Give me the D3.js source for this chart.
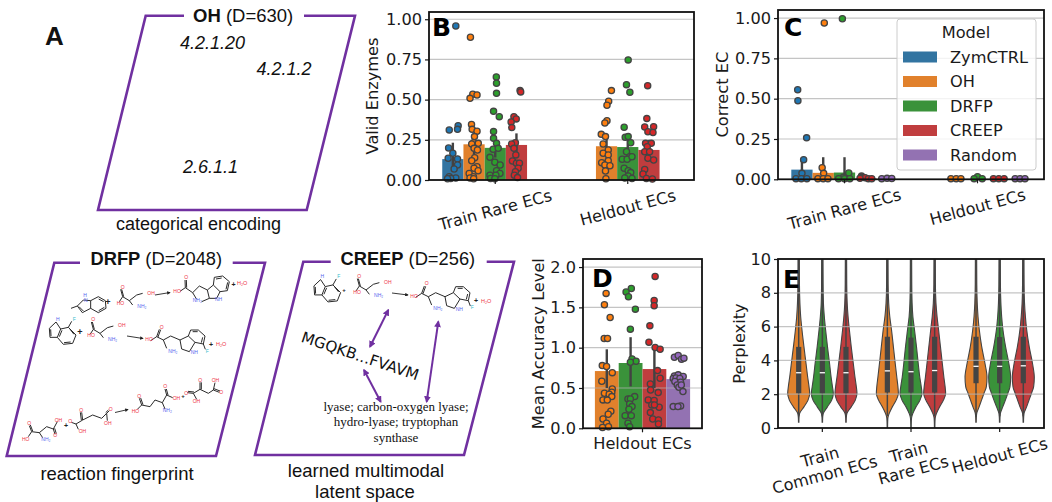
<!DOCTYPE html>
<html><head><meta charset="utf-8">
<script src="https://cdn.jsdelivr.net/npm/d3@7"></script>
<style>html,body{margin:0;padding:0;background:#fff}svg{display:block}</style>
</head><body><svg id="c" width="1052" height="502"></svg>
<script>
// ---------- data ----------
const modelNames = ["ZymCTRL","OH","DRFP","CREEP","Random"];
const barColors  = ["#3274a1","#e1812c","#3a923a","#c03d3e","#9372b2"];
const dotColors  = ["#1f77b4","#ff7f0e","#2ca02c","#d62728","#9467bd"];
const catsBC = ["Train Rare ECs","Heldout ECs"];
const catsD  = ["Heldout ECs"];
const catsE  = ["Train\nCommon ECs","Train\nRare ECs","Heldout ECs"];
const ticksBC = [0,0.25,0.5,0.75,1];
const ticksD  = [0,0.5,1,1.5,2];
const ticksE  = [0,2,4,6,8,10];

// bars: [category, model, mean, ciLow, ciHigh]
const validBars = [[0,0,.13,.06,.232],[0,1,.222,.15,.29],[0,2,.2,.14,.27],[0,3,.218,.15,.29],
                   [1,1,.21,.15,.28],[1,2,.205,.14,.27],[1,3,.187,.13,.25]];
const correctBars = [[0,0,.06,.01,.125],[0,1,.04,.0,.137],[0,2,.042,.0,.137],[0,3,.006,.002,.012],[0,4,.002,.0,.004],
                     [1,1,.001,.0,.002],[1,2,.002,.0,.005],[1,3,.001,.0,.002],[1,4,.001,.0,.002]];
const accuracyBars = [[0,1,.71,.5,.98],[0,2,.81,.52,1.13],[0,3,.735,.5,.97],[0,4,.61,.54,.7]];

// strip points: [value, spread in bar widths]
const validTrainZym = [[.958,.14],[.338,.25],[.311,-.17],[.315,.22],[.199,-.2],[.166,0],[.135,-.22],[.131,.22],[.093,.22],[.068,.06],[.02,-.17],[.012,.14],[.01,-.1],[.008,-.25]];
const validTrainOH = [[.888,-.17],[.533,-.06],[.529,.14],[.508,-.19],[.346,-.12],[.315,-.09],[.303,.14],[.27,.02],[.232,-.02],[.228,.2],[.224,-.11],[.197,0],[.187,.16],[.139,.03],[.12,-.11],[.083,.14],[.073,0],[.058,.19],[.041,-.23],[.02,-.03],[.012,-.19],[.008,-.02]];
const validTrainDRFP = [[.641,.05],[.602,.06],[.539,.06],[.427,-.08],[.394,.19],[.301,-.08],[.259,-.08],[.228,.06],[.191,-.1],[.197,.14],[.141,-.25],[.11,-.02],[.093,.23],[.058,.06],[.041,.22],[.03,-.25],[.03,.03],[.01,-.22],[.008,-.02]];
const validTrainCREEP = [[.556,.17],[.548,.2],[.394,-.12],[.38,-.01],[.361,-.25],[.326,-.22],[.232,-.05],[.224,-.23],[.197,-.12],[.156,-.03],[.118,-.19],[.104,0],[.104,.14],[.073,.08],[.052,-.05],[.03,-.1],[.015,.05]];
const validHeldOH = [[.556,.23],[.49,.1],[.465,.02],[.369,.02],[.355,-.08],[.284,-.25],[.27,-.05],[.224,-.16],[.187,.08],[.166,-.16],[.156,.08],[.108,-.23],[.12,.08],[.093,-.08],[.089,.16],[.056,-.05],[.008,-.03]];
const validHeldDRFP = [[.747,.02],[.593,-.06],[.546,.1],[.328,-.17],[.266,-.12],[.27,.02],[.232,.14],[.176,-.06],[.145,.1],[.129,-.26],[.129,-.03],[.145,.2],[.073,-.17],[.058,.02],[.046,.14],[.025,.02],[.012,-.14],[.01,.2]];
const validHeldCREEP = [[.587,-.06],[.382,-.1],[.33,-.2],[.332,.22],[.3,-.05],[.295,.19],[.228,-.16],[.228,.11],[.207,-.08],[.176,-.2],[.176,.03],[.135,-.05],[.124,.22],[.066,-.2],[.037,-.28],[.01,-.12],[.006,.16]];

const correctTrainZym = [[.555,-.2],[.487,-.19],[.257,.22],[.122,.08],[.037,0],[.004,-.28],[.004,-.03],[.004,.23]];
const correctTrainOH = [[.969,.05],[.072,-.05],[.037,.02],[.004,-.25],[.004,0],[.004,.22]];
const correctTrainDRFP = [[.996,-.1],[.039,.2],[.012,-.05],[.004,-.28],[.004,0],[.004,.25]];
const correctTrainCREEP = [[.02,-.2],[.012,-.2],[.01,-.03],[.004,.12],[.004,.28],[.006,-.27]];
const correctTrainRandom = [[.004,-.25],[.006,0],[.005,.22]];
const correctHeldOH = [[.004,-.25],[.004,0],[.004,.22]];
const correctHeldDRFP = [[.016,0],[.004,-.16],[.004,.22]];
const correctHeldCREEP = [[.004,-.25],[.004,0],[.004,.25]];
const correctHeldRandom = [[.004,-.23],[.004,0],[.004,.23]];

const accuracyOH = [[1.673,-.03],[1.532,-.1],[1.375,.14],[1.114,-.11],[1.114,.03],[.778,-.19],[.766,-.01],[.69,.23],[.584,-.21],[.489,.23],[.447,.21],[.435,-.1],[.422,.1],[.393,.21],[.352,-.16],[.35,.02],[.211,.17],[.174,.06],[.116,-.16],[.062,-.01],[.02,.07],[.01,-.18]];
const accuracyDRFP = [[1.735,.03],[1.69,-.19],[1.631,-.09],[1.478,.2],[1.23,-.01],[.861,.06],[.832,.23],[.82,-.01],[.393,.17],[.364,-.11],[.364,-.01],[.302,-.04],[.269,.06],[.236,-.07],[.157,-.23],[.157,.03],[.062,-.11],[.02,-.04]];
const accuracyCREEP = [[1.884,.03],[1.586,-.01],[1.52,-.01],[1.271,-.19],[1.068,-.23],[1.002,.03],[.981,.24],[.716,.13],[.621,.24],[.551,-.17],[.476,-.16],[.443,.16],[.352,-.26],[.344,-.01],[.29,-.11],[.261,.2],[.29,0],[.195,-.17],[.116,-.07],[.104,.17],[.054,.17]];
const accuracyRandom = [[.882,-.16],[.903,0],[.857,.14],[.87,.24],[.65,-.16],[.663,0],[.642,.21],[.617,-.21],[.625,-.09],[.617,.07],[.58,-.14],[.571,.1],[.538,-.04],[.509,.03],[.538,.13],[.455,.2],[.269,-.21],[.277,.1],[.269,-.01]];

// violins: perplexity levels and relative density at each level (null = no density there)
const perplexityLevels = [0,.35,.6,.85,1.25,1.65,2.05,2.45,3,3.8,4.8,5.8,6.6,7.4,8.5,10];
const densCommonOH    = [null,.02,.03,.08,.48,.85,1,.94,.82,.67,.48,.30,.18,.11,.07,.06];
const densCommonDRFP  = [null,.02,.03,.08,.46,.85,1,.92,.80,.66,.47,.30,.18,.10,.07,.06];
const densCommonCREEP = [null,.02,.03,.08,.48,.85,1,.94,.82,.67,.48,.31,.19,.11,.07,.06];
const densRareOH      = [.02,.03,.05,.16,.45,.8,1,.96,.86,.72,.55,.38,.22,.12,.07,.06];
const densRareDRFP    = [.02,.03,.05,.16,.45,.82,1,.93,.80,.66,.50,.32,.17,.10,.07,.06];
const densRareCREEP   = [.02,.03,.05,.16,.45,.8,1,.95,.84,.70,.53,.36,.22,.12,.07,.06];
const densHeldOH      = [null,.02,.03,.06,.28,.5,.72,.94,1,.82,.52,.30,.18,.11,.07,.06];
const densHeldDRFP    = [null,.02,.03,.06,.28,.52,.74,.94,1,.84,.54,.30,.18,.11,.07,.06];
const densHeldCREEP   = [null,.02,.03,.06,.30,.52,.74,.94,1,.84,.54,.31,.19,.11,.07,.06];
// [category, model, density, q1, median, q3]
const violinSet = [
 [0,1,densCommonOH,2.05,3.27,4.8],[0,2,densCommonDRFP,2.05,3.27,4.8],[0,3,densCommonCREEP,2.05,3.27,4.8],
 [1,1,densRareOH,2.1,3.38,5.4],[1,2,densRareDRFP,2.1,3.33,5.35],[1,3,densRareCREEP,2.1,3.4,5.4],
 [2,1,densHeldOH,2.65,3.65,5.4],[2,2,densHeldDRFP,2.65,3.65,5.38],[2,3,densHeldCREEP,2.65,3.68,5.4]];

// ---------- helpers ----------
const svg = d3.select("#c");
const SANS = "'DejaVu Sans'", ARIAL = "'Liberation Sans'", SERIF = "'Liberation Serif'";
const PURPLE = "#7030a0", INK = "#1a1a1a", AXFS = 16.2;

function panel(o){
  const g = svg.append("g");
  const x = d3.scaleBand().domain(o.cats).range([o.l,o.r]);
  const sub = d3.scaleBand().domain(o.models).range([.1*x.bandwidth(),.9*x.bandwidth()]);
  const y = d3.scaleLinear().domain([0,o.ymax]).range([o.b,o.t]);
  const cx = (c,m)=>x(o.cats[c])+sub(modelNames[m])+sub.bandwidth()/2;
  return {g,x,sub,y,cx,o};
}
function grid(p){
  p.g.append("g").selectAll("line").data(p.o.ticks.filter(t=>t>0)).join("line")
    .attr("x1",p.o.l).attr("x2",p.o.r).attr("y1",d=>p.y(d)).attr("y2",d=>p.y(d))
    .attr("stroke","#b0b0b0").attr("stroke-opacity",.75).attr("stroke-width",1.2);
}
function frame(p){
  const o=p.o;
  const ax=p.g.append("g").attr("transform",`translate(${o.l},0)`)
    .call(d3.axisLeft(p.y).tickValues(o.ticks).tickFormat(d3.format(o.fmt)).tickSize(4).tickPadding(3));
  ax.select(".domain").remove();
  ax.selectAll("text").attr("font-family",SANS).attr("font-size",AXFS).attr("fill",INK);
  ax.selectAll("line").attr("stroke",INK).attr("stroke-width",1.2);
  p.g.selectAll(".xt").data(o.cats).join("line").attr("class","xt")
    .attr("x1",d=>p.x(d)+p.x.bandwidth()/2).attr("x2",d=>p.x(d)+p.x.bandwidth()/2)
    .attr("y1",o.b).attr("y2",o.b+4).attr("stroke",INK).attr("stroke-width",1.2);
  p.g.append("rect").attr("x",o.l).attr("y",o.t).attr("width",o.r-o.l).attr("height",o.b-o.t)
    .attr("fill","none").attr("stroke","#111").attr("stroke-width",1.8);
  o.cats.forEach(c=>xLabel(p,c,o.rot));
  p.g.append("text").attr("transform",`translate(${o.ylx},${(o.t+o.b)/2}) rotate(-90)`)
    .attr("text-anchor","middle").attr("font-family",SANS).attr("font-size",AXFS).attr("fill",INK).text(o.ylabel);
  p.g.append("text").attr("x",o.letter[1]).attr("y",o.letter[2]).attr("font-family",SANS)
    .attr("font-weight","bold").attr("font-size",25).attr("fill","#000").text(o.letter[0]);
}
function xLabel(p,c,rot){
  const lines=c.split("\n"), lh=18.4, xc=p.x(c)+p.x.bandwidth()/2;
  const t=p.g.append("text").attr("text-anchor","middle").attr("font-family",SANS).attr("font-size",AXFS).attr("fill",INK);
  const spans=lines.map((s,i)=>t.append("tspan").attr("x",0).attr("y",(i-(lines.length-1)/2)*lh).attr("dy",".35em").text(s));
  const w=d3.max(spans,s=>s.node().getComputedTextLength());
  const a=rot*Math.PI/180, H=w*Math.sin(a)+lines.length*lh*Math.cos(a);
  const yc=p.o.b+6+H/2;
  t.attr("transform",`translate(${xc},${yc}) rotate(${-rot})`);
}
function bars(p,rows){
  p.g.append("g").selectAll("rect").data(rows).join("rect")
    .attr("x",d=>p.cx(d[0],d[1])-p.sub.bandwidth()/2).attr("width",p.sub.bandwidth())
    .attr("y",d=>p.y(d[2])).attr("height",d=>p.o.b-p.y(d[2])).attr("fill",d=>barColors[d[1]]);
}
function errs(p,rows){
  p.g.append("g").selectAll("line").data(rows).join("line")
    .attr("x1",d=>p.cx(d[0],d[1])).attr("x2",d=>p.cx(d[0],d[1]))
    .attr("y1",d=>p.y(d[3])).attr("y2",d=>p.y(d[4])).attr("stroke","#424242").attr("stroke-width",2.4);
}
function dots(p,c,m,pts){
  p.g.append("g").selectAll("circle").data(pts).join("circle")
    .attr("cx",d=>p.cx(c,m)+d[1]*p.sub.bandwidth()).attr("cy",d=>p.y(d[0])).attr("r",3.1)
    .attr("fill",dotColors[m]).attr("stroke","#444").attr("stroke-width",1.3);
}

// ---------- panel B ----------
const pB = panel({cats:catsBC,models:modelNames,l:429,r:694,t:12,b:180,ymax:1.045,ticks:ticksBC,fmt:".2f",rot:15,ylx:378,ylabel:"Valid Enzymes",letter:["B",432,36]});
bars(pB,validBars); grid(pB); errs(pB,validBars);
[[0,0,validTrainZym],[0,1,validTrainOH],[0,2,validTrainDRFP],[0,3,validTrainCREEP],[1,1,validHeldOH],[1,2,validHeldDRFP],[1,3,validHeldCREEP]].forEach(a=>dots(pB,...a));
frame(pB);

// ---------- panel C ----------
const pC = panel({cats:catsBC,models:modelNames,l:778,r:1044,t:10,b:179.3,ymax:1.05,ticks:ticksBC,fmt:".2f",rot:15,ylx:728,ylabel:"Correct EC",letter:["C",784,36]});
bars(pC,correctBars); grid(pC); errs(pC,correctBars);
[[0,0,correctTrainZym],[0,1,correctTrainOH],[0,2,correctTrainDRFP],[0,3,correctTrainCREEP],[0,4,correctTrainRandom],[1,1,correctHeldOH],[1,2,correctHeldDRFP],[1,3,correctHeldCREEP],[1,4,correctHeldRandom]].forEach(a=>dots(pC,...a));
frame(pC);
// legend
const leg = svg.append("g");
leg.append("rect").attr("x",897).attr("y",19).attr("width",139).attr("height",151).attr("rx",3)
  .attr("fill","#fff").attr("fill-opacity",.8).attr("stroke","#ccc").attr("stroke-width",1);
leg.append("text").attr("x",966).attr("y",38).attr("text-anchor","middle").attr("font-family",SANS).attr("font-size",AXFS).attr("fill",INK).text("Model");
const legY = d3.scalePoint().domain(modelNames).range([57,155]);
modelNames.forEach((m,i)=>{
  leg.append("rect").attr("x",903).attr("y",legY(m)-5.5).attr("width",34).attr("height",11).attr("fill",barColors[i]);
  leg.append("text").attr("x",950).attr("y",legY(m)+5.5).attr("font-family",SANS).attr("font-size",AXFS).attr("fill",INK).text(m);
});

// ---------- panel D ----------
const pD = panel({cats:catsD,models:modelNames.slice(1),l:583,r:702,t:259,b:428.3,ymax:2.1,ticks:ticksD,fmt:".1f",rot:0,ylx:544,ylabel:"Mean Accuracy Level",letter:["D",592,287]});
bars(pD,accuracyBars); grid(pD); errs(pD,accuracyBars);
[[0,1,accuracyOH],[0,2,accuracyDRFP],[0,3,accuracyCREEP],[0,4,accuracyRandom]].forEach(a=>dots(pD,...a));
frame(pD);

// ---------- panel E ----------
const pE = panel({cats:catsE,models:modelNames.slice(1,4),l:778,r:1044,t:259,b:428,ymax:10,ticks:ticksE,fmt:"d",rot:15,ylx:745,ylabel:"Perplexity",letter:["E",783,288]});
svg.append("defs").append("clipPath").attr("id","clipE").append("rect").attr("x",778).attr("y",259).attr("width",266).attr("height",169);
const w = d3.scaleLinear().domain([0,1]).range([0,11]);
const gV = pE.g.append("g").attr("clip-path","url(#clipE)");
violinSet.forEach(([c,m,dens])=>{
  const cx=pE.cx(c,m);
  const rows=perplexityLevels.map((l,i)=>[l,dens[i]]).filter(r=>r[1]!==null);
  const area=d3.area().y(r=>pE.y(r[0])).x0(r=>cx-w(r[1])).x1(r=>cx+w(r[1])).curve(d3.curveMonotoneY);
  gV.append("path").attr("d",area(rows)).attr("fill",barColors[m]).attr("stroke","#444").attr("stroke-width",1.1);
});
grid(pE);
violinSet.forEach(([c,m,dens,q1,med,q3])=>{
  const cx=pE.cx(c,m);
  gV.append("line").attr("x1",cx).attr("x2",cx).attr("y1",pE.y(.7)).attr("y2",pE.y(10)).attr("stroke","#444").attr("stroke-width",1.5);
  gV.append("rect").attr("x",cx-2.6).attr("width",5.2).attr("y",pE.y(q3)).attr("height",pE.y(q1)-pE.y(q3)).attr("fill","#444");
  gV.append("line").attr("x1",cx-2.6).attr("x2",cx+2.6).attr("y1",pE.y(med)).attr("y2",pE.y(med)).attr("stroke","#fff").attr("stroke-width",1.3);
});
frame(pE);

// ---------- schematic panels ----------
const defs = svg.select("defs");
const mk=(id,col,sz)=>defs.append("marker").attr("id",id).attr("viewBox","0 0 10 10").attr("refX",8).attr("refY",5)
  .attr("markerWidth",sz).attr("markerHeight",sz).attr("orient","auto-start-reverse").append("path").attr("d","M0 0L10 5L0 10z").attr("fill",col);
mk("ap",PURPLE,3.4); mk("ak","#222",4);
const gA = svg.append("g");
function para(pts,gap){
  const [tl,bl,br,tr]=pts;
  gA.append("path").attr("d",d3.line()([[gap[0],tl[1]],tl,bl,br,tr,[gap[1],tr[1]]])).attr("fill","none")
    .attr("stroke",PURPLE).attr("stroke-width",2.6).attr("stroke-linejoin","miter");
}
function title(x,y,b,r,fs){
  const t=gA.append("text").attr("x",x).attr("y",y).attr("font-family",ARIAL).attr("font-size",fs).attr("fill","#111");
  t.append("tspan").attr("font-weight","bold").text(b);
  t.append("tspan").text(r);
}
function txt(x,y,s,fs,opt={}){
  return gA.append("text").attr("x",x).attr("y",y).attr("font-family",opt.f||ARIAL).attr("font-size",fs)
    .attr("font-style",opt.i?"italic":null).attr("font-weight",opt.b?"bold":null).attr("text-anchor",opt.a||"start").attr("fill","#111").text(s);
}
txt(45,45,"A",26,{b:1});
para([[145.7,15.7],[98,210],[306.7,210],[355,15.7]],[184,304]);
title(193,22,"OH"," (D=630)",18.5);
txt(180,49,"4.2.1.20",18,{i:1}); txt(256.5,75,"4.2.1.2",18,{i:1}); txt(183,173,"2.6.1.1",18,{i:1});
txt(198.5,230,"categorical encoding",18,{a:"middle"});

para([[54.3,262.7],[6.7,456],[216,456],[265,262.7]],[80,232.7]);
title(90.5,265,"DRFP"," (D=2048)",18.3);
txt(117,480,"reaction fingerprint",18.5,{a:"middle"});

para([[303.3,261.7],[255,455],[464,455],[514,261.7]],[330.7,486.7]);
title(340.5,265,"CREEP"," (D=256)",18.3);
txt(366,477,"learned multimodal",18.5,{a:"middle"});
txt(365,498,"latent space",18.5,{a:"middle"});
["lyase; carbon-oxygen lyase;","hydro-lyase; tryptophan","synthase"].forEach((s,i)=>txt(396,411+i*15.3,s,13,{f:SERIF,a:"middle"}));
gA.append("text").attr("transform","translate(358.5,361) rotate(18.5)").attr("text-anchor","middle")
  .attr("font-family",SANS).attr("font-size",15.2).attr("fill","#111").text("MGQKB...FVAVM");
[[388.3,310,370,346.7],[438.3,321.7,426.7,401.7],[364,370,380.7,401.7]].forEach(a=>{
  gA.append("line").attr("x1",a[0]).attr("y1",a[1]).attr("x2",a[2]).attr("y2",a[3]).attr("stroke",PURPLE).attr("stroke-width",2)
    .attr("marker-start","url(#ap)").attr("marker-end","url(#ap)");
});

// molecule sketches, drawn in 3x units
const RED="#ee3344", BLUE="#5566ee", CYAN="#33bbcc";
const molSerine={b:[[368,140,362,118],[371,140,365,118],[368,140,358,155],[368,140,388,152],[388,152,410,135],[410,135,428,130],[388,152,398,165]],
  l:[[350,164,"HO",RED],[362,116,"O",RED],[442,134,"OH",RED],[412,174,"NH₂",BLUE]]};
const molFIndole={b:[[205,232,228,255],[228,255,218,280],[218,280,190,283],[190,283,172,262],[172,262,182,237],[182,237,205,232],[210,238,222,253],[212,276,192,278],[178,260,186,241],[182,237,168,216],[172,262,150,262],[150,262,148,235],[148,235,168,216],[153,258,152,238],[205,232,215,214]],
  l:[[168,212,"H",BLUE],[218,212,"F",CYAN]]};
const molFTrp={b:[[470,260,478,238],[474,261,482,239],[470,260,452,272],[470,260,490,270],[490,270,512,258],[490,270,500,295],[512,258,540,270],[540,270,545,297],[545,297,568,305],[568,305,585,277],[585,277,565,258],[565,258,540,270],[565,258,572,240],[572,240,595,240],[595,240,615,258],[615,258,610,282],[610,282,585,277],[578,245,593,245],[608,262,604,278],[610,282,616,298]],
  l:[[436,274,"HO",RED],[479,236,"O",RED],[505,310,"NH₂",BLUE],[572,313,"NH",BLUE],[617,308,"F",CYAN]]};
const molMeIndole={b:[[272,152,295,140],[295,140,316,152],[316,152,318,175],[318,175,295,188],[295,188,272,175],[272,175,272,152],[296,147,311,155],[313,172,296,182],[272,152,250,150],[250,150,232,168],[232,168,247,188],[247,188,272,175],[237,170,250,183],[232,168,213,175]],
  l:[[250,142,"H",BLUE],[252,156,"N",BLUE]]};
const molMeTrp={b:[[556,113,555,90],[560,113,559,90],[556,113,540,124],[556,113,578,128],[578,128,590,148],[578,128,598,108],[598,108,622,120],[622,120,640,105],[640,105,660,125],[660,125,650,145],[650,145,628,145],[628,145,622,120],[640,105,643,82],[643,82,668,78],[668,78,688,95],[688,95,682,122],[682,122,660,125],[648,87,665,84],[683,97,678,118],[628,145,605,155]],
  l:[[520,129,"HO",RED],[553,88,"O",RED],[578,155,"NH₂",BLUE],[645,152,"NH",BLUE]]};
const molAsp={b:[[95,545,88,527],[98,543,91,525],[95,545,85,560],[95,545,118,548],[118,548,128,563],[118,548,140,530],[140,530,160,537],[160,537,165,553],[164,535,169,551],[160,537,172,515]],
  l:[[66,573,"HO",RED],[82,525,"O",RED],[124,574,"NH₂",BLUE],[164,516,"OH",RED],[160,560,"O",RED]]};
const molAkg={b:[[245,487,248,510],[241,487,244,510],[248,510,228,522],[228,522,214,517],[228,522,235,538],[248,510,278,495],[278,495,305,505],[305,505,320,490],[320,490,328,482],[317,488,325,480],[320,490,322,512]],
  l:[[205,520,"O",RED],[238,485,"O",RED],[236,548,"OH",RED],[326,482,"O",RED],[312,526,"OH",RED]]};
const molGlu={b:[[425,465,418,445],[429,464,422,444],[425,465,412,478],[425,465,450,470],[450,470,465,450],[465,450,487,458],[487,458,495,477],[487,458,500,435],[500,435,495,417],[504,435,499,417],[500,435,518,443]],
  l:[[395,488,"HO",RED],[412,443,"O",RED],[488,485,"NH₂",BLUE],[490,415,"O",RED],[518,450,"OH",RED]]};
const molOaa={b:[[562,428,580,430],[564,424,582,426],[580,430,590,448],[580,430,600,418],[600,418,600,397],[604,418,604,397],[600,418,625,430],[625,430,640,420],[640,420,645,398],[640,420,658,427],[642,416,660,423]],
  l:[[553,434,"O",RED],[578,458,"OH",RED],[595,395,"O",RED],[635,395,"OH",RED],[658,432,"O",RED]]};
function place(m,ox,oy){
  const g=gA.append("g").attr("transform",`translate(${ox},${oy}) scale(${1/3})`);
  g.selectAll("line").data(m.b).join("line").attr("x1",d=>d[0]).attr("y1",d=>d[1]).attr("x2",d=>d[2]).attr("y2",d=>d[3])
    .attr("stroke","#222").attr("stroke-width",2.9);
  g.selectAll("text").data(m.l).join("text").attr("x",d=>d[0]).attr("y",d=>d[1]).attr("fill",d=>d[3])
    .attr("font-family",ARIAL).attr("font-size",15).text(d=>d[2]);
}
function plus(x,y,s=7){ gA.append("text").attr("x",x).attr("y",y).attr("text-anchor","middle").attr("font-family",ARIAL).attr("font-weight","bold").attr("font-size",s).attr("fill","#222").text("+"); }
function water(x,y,col=RED){ gA.append("text").attr("x",x).attr("y",y).attr("font-family",ARIAL).attr("font-size",5.5).attr("fill",col).text("H₂O"); }
function arrow(x1,y1,x2,y2){ gA.append("line").attr("x1",x1).attr("y1",y1).attr("x2",x2).attr("y2",y2).attr("stroke","#222").attr("stroke-width",.9).attr("marker-end","url(#ak)"); }

place(molMeIndole,0,250); plus(108,304.5,9); place(molSerine,0,250); arrow(155,295,170,292.5); place(molMeTrp,0,250); plus(233.5,287,7); water(237,285);
place(molFIndole,0,250); plus(80,335,9); place(molSerine,-29.3,282.7); arrow(127,336,143,338.5); place(molFTrp,0,250); plus(211,347,7); water(216,346);
place(molAsp,0,250); plus(66,428,7); place(molAkg,0,250); arrow(115,412.5,128,409.5); place(molGlu,0,250); plus(183,398,6); place(molOaa,0,250);
place(molFIndole,264.6,207.6); plus(344,292,6); place(molSerine,236.7,239.3); arrow(392,293,408,295); place(molFTrp,265,206.7); plus(476,303,7); water(481,303);
</script></body></html>
